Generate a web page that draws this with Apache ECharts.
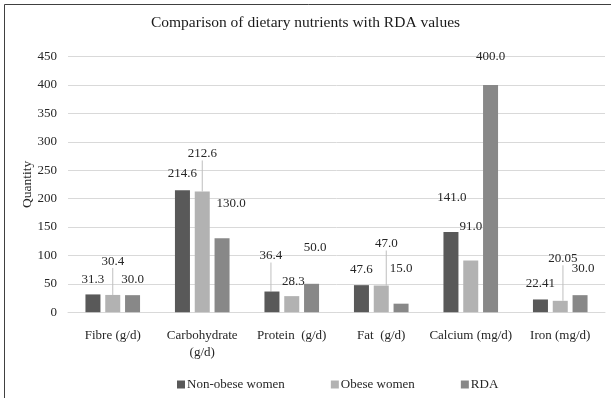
<!DOCTYPE html>
<html>
<head>
<meta charset="utf-8">
<style>
  html, body { margin: 0; padding: 0; background: #fff; }
  #chart { width: 611px; height: 398px; }
</style>
<script src="https://cdn.jsdelivr.net/npm/echarts@6/dist/echarts.min.js"></script>
</head>
<body>
<div id="chart"></div>
<script>
// Nutrient categories (x axis)
const categories = ['Fibre (g/d)', 'Carbohydrate\n(g/d)', 'Protein  (g/d)', 'Fat  (g/d)', 'Calcium (mg/d)', 'Iron (mg/d)'];
// Daily intake of each group and the recommended allowance
const nonObeseWomen = [31.3, 214.6, 36.4, 47.6, 141.0, 22.41];
const obeseWomen = [30.4, 212.6, 28.3, 47.0, 91.0, 20.05];
const rda = [30.0, 130.0, 50.0, 15.0, 400.0, 30.0];
// Decimal places shown in the value labels of each series
const labelDecimals = [
  [1, 1, 1, 1, 1, 2],
  [1, 1, 1, 1, 1, 2],
  [1, 1, 1, 1, 1, 1]
];
// Y axis ticks
const yMin = 0, yMax = 450, yStep = 50;

// Label nudges [dx, dy] per series and category, and which labels get a leader line
const labelShift = [
  [[0, -3], [0, -5], [-1, -24], [0, -4], [1, -23], [0, -4]],
  [[0, -22], [0, -26], [1.5, -3], [5, -30], [0, -22], [2.7, -30.5]],
  [[0, -4], [9, -23], [3.5, -24.5], [0, -23.4], [0, -17], [3, -15]]
];
const leader = [
  [false, false, true, false, false, false],
  [true, true, false, true, false, true],
  [false, false, false, false, false, false]
];

const serif = '"Liberation Serif", "Times New Roman", serif';
const colors = ['#595959', '#b2b2b2', '#888888'];
const textColor = '#262626';

function makeSeries(name, values, idx) {
  return {
    name: name,
    type: 'bar',
    barWidth: 15,
    barGap: '32%',
    barCategoryGap: '39%',
    itemStyle: { color: colors[idx] },
    data: values.map((v, i) => ({
      value: v,
      labelLine: { show: leader[idx][i], lineStyle: { color: '#bfbfbf', width: 1 } }
    })),
    label: {
      show: true,
      position: 'top',
      distance: 5,
      fontFamily: serif,
      fontSize: 13,
      color: textColor,
      formatter: p => p.value.toFixed(labelDecimals[idx][p.dataIndex])
    },
    labelLayout: p => ({ dx: labelShift[idx][p.dataIndex][0], dy: labelShift[idx][p.dataIndex][1] })
  };
}

const chart = echarts.init(document.getElementById('chart'), null, { renderer: 'canvas' });
chart.setOption({
  backgroundColor: '#ffffff',
  animation: false,
  title: {
    text: 'Comparison of dietary nutrients with RDA values',
    left: 'center',
    top: 10,
    textStyle: { fontFamily: serif, fontSize: 15.5, fontWeight: 'normal', color: '#1a1a1a' }
  },
  graphic: [{
    type: 'rect',
    shape: { x: 4.5, y: 4.5, width: 700, height: 500 },
    style: { fill: 'none', stroke: '#404040', lineWidth: 1 },
    silent: true,
    z: -1
  }],
  legend: {
    left: 172,
    top: 373,
    icon: 'rect',
    itemWidth: 8,
    itemHeight: 8,
    itemGap: 46,
    textStyle: { fontFamily: serif, fontSize: 13, color: textColor, padding: [0, 0, 0, -3] },
    data: ['Non-obese women', 'Obese women', 'RDA']
  },
  grid: { left: 68, right: 6, top: 56.6, bottom: 85.8, containLabel: false },
  xAxis: {
    type: 'category',
    data: categories,
    axisLine: { lineStyle: { color: '#d9d9d9', width: 1 } },
    axisTick: { show: false },
    axisLabel: { interval: 0, margin: 15, fontFamily: serif, fontSize: 13, color: textColor, lineHeight: 17 }
  },
  yAxis: {
    type: 'value',
    min: yMin,
    max: yMax,
    interval: yStep,
    name: 'Quantity',
    nameLocation: 'middle',
    nameGap: 34,
    nameMoveOverlap: false,
    nameTextStyle: { fontFamily: serif, fontSize: 13.5, color: textColor },
    axisLine: { show: false },
    axisTick: { show: false },
    axisLabel: { margin: 11, fontFamily: serif, fontSize: 13, color: textColor },
    splitLine: { lineStyle: { color: '#d9d9d9', width: 1 } }
  },
  series: [
    makeSeries('Non-obese women', nonObeseWomen, 0),
    makeSeries('Obese women', obeseWomen, 1),
    makeSeries('RDA', rda, 2)
  ]
});
</script>
</body>
</html>
